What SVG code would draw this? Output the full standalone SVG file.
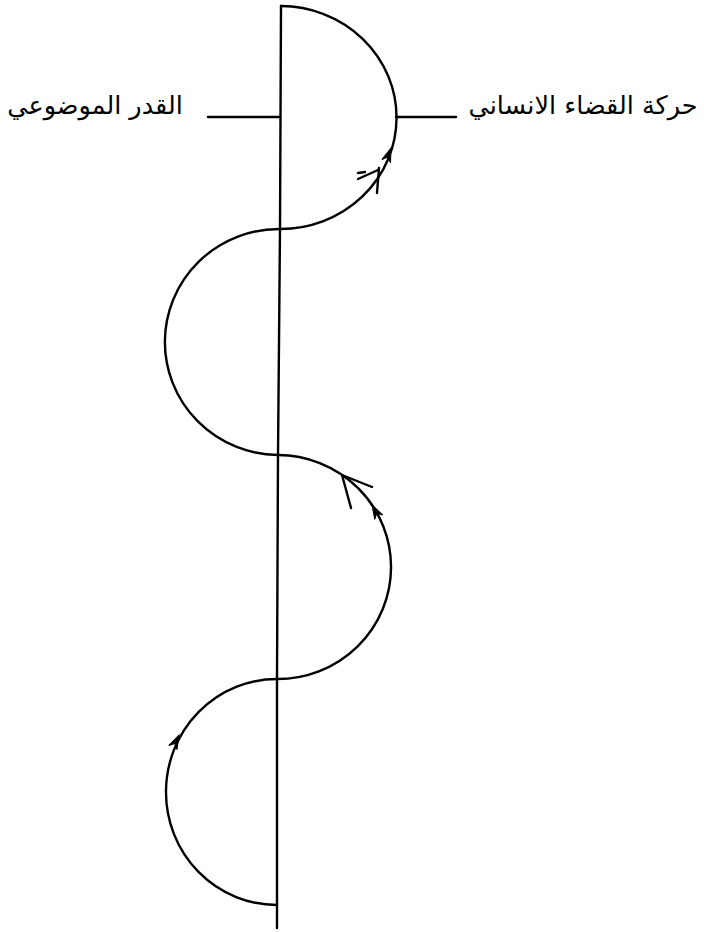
<svg xmlns="http://www.w3.org/2000/svg" width="704" height="932" viewBox="0 0 704 932">
<style>
.ln{fill:none;stroke:#000;stroke-width:2.4;stroke-linecap:round}
.lb{font-family:"DejaVu Sans",sans-serif;font-size:25.5px;fill:#000}
</style>
<defs>
<path id="ah" d="M0,0 L-14,-4.6 L-9.5,0 L-14,4.6 Z" fill="#000" stroke="#000" stroke-width="1"/>
</defs>
<rect width="704" height="932" fill="#fff"/>
<g id="axis">
<path class="ln" d="M281,6 L280,229 L278,455 L277,679 L277,928"/>
</g>
<g id="connectors">
<path class="ln" d="M281,6 A116,111.4 0 0 1 280,229"/>
<path class="ln" d="M280,229 A114,112.9 0 0 0 278,455"/>
<path class="ln" d="M278,455 A113.5,111.9 0 0 1 277,679"/>
<path class="ln" d="M277,679 A111,112.9 0 0 0 277,905"/>
<path class="ln" d="M208,117 L279,117"/>
<path class="ln" d="M396,117 L456,117"/>
<use href="#ah" transform="translate(391,148) rotate(-70)"/>
<path class="ln" d="M358,173 L365,172 M358,179 L378,170 M379,168 L377,193"/>
<path class="ln" d="M342,475 L351,508 M342,475 L372,487"/>
<use href="#ah" transform="translate(372,505) rotate(-119)"/>
<use href="#ah" transform="translate(179,735) rotate(-64)"/>
</g>
<g id="label-left">
<text class="lb" x="95" y="114" text-anchor="middle" direction="rtl">القدر الموضوعي</text>
</g>
<g id="label-right">
<text class="lb" x="583" y="114" text-anchor="middle" direction="rtl">حركة القضاء الانساني</text>
</g>
</svg>
